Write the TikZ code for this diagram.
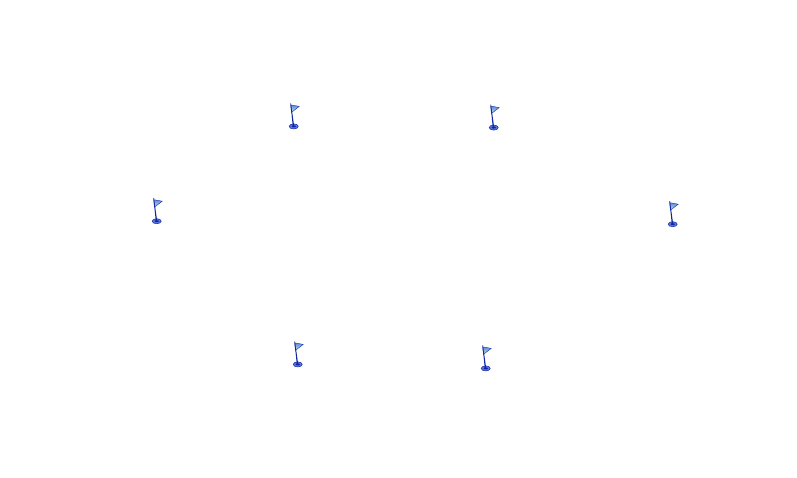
\documentclass[tikz,border=0pt]{standalone}
\definecolor{flagline}{HTML}{1F35B5}
\definecolor{flagtop}{HTML}{5E8FD0}
\definecolor{flaglow}{HTML}{C4DCF2}
\definecolor{basefill}{HTML}{5C78E0}
\definecolor{poledark}{HTML}{10269C}
\tikzset{
  golfflag/.pic={
    \draw[flagline,line width=0.45pt,top color=flagtop,bottom color=flaglow] (-3,-21.5) -- (5.5,-20) -- (-2.3,-14) -- cycle;
    \draw[flagline,line width=0.6pt,fill=basefill] (0,0) ellipse [x radius=4.5,y radius=2.5];
    \fill[poledark] (0,0) ellipse [x radius=2.2,y radius=1];
    \fill[poledark] (-3.3,-23) -- (-2.7,-23) -- (0.5,0) -- (-0.9,0) -- cycle;
  }
}
\begin{document}
\begin{tikzpicture}[x=1pt,y=-1pt]
\useasboundingbox[fill=white] (0,0) rectangle (797,478);
\pic at (293.7,126.4) {golfflag};
\pic at (493.7,127.6) {golfflag};
\pic at (156.7,221.2) {golfflag};
\pic at (672.7,224.2) {golfflag};
\pic at (297.7,364.4) {golfflag};
\pic at (485.7,368.4) {golfflag};
\end{tikzpicture}
\end{document}
